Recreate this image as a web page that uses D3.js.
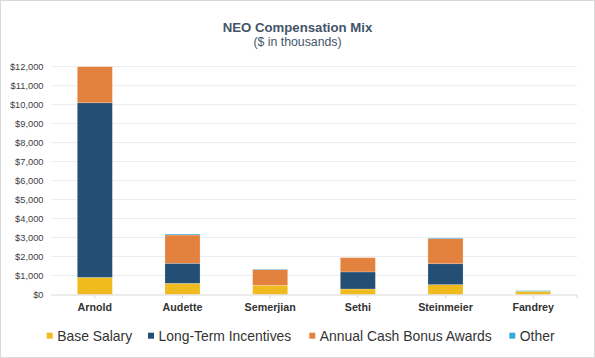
<!DOCTYPE html>
<html><head><meta charset="utf-8">
<script src="https://cdn.jsdelivr.net/npm/d3@7"></script>
<style>body{margin:0;background:#fff;}svg{display:block;}text{font-family:Arial,"Liberation Sans",sans-serif;}</style>
</head><body>
<svg id="c" width="595" height="358"></svg>
<script>
const categories = ["Arnold","Audette","Semerjian","Sethi","Steinmeier","Fandrey"];
const seriesNames = ["Base Salary","Long-Term Incentives","Annual Cash Bonus Awards","Other"];
const baseSalary = [900, 590, 485, 290, 520, 170];
const longTerm = [9200, 1055, 0, 900, 1100, 0];
const bonus = [1900, 1490, 825, 750, 1320, 0];
const other = [0, 50, 25, 0, 40, 35];
const yTicks = [0,1000,2000,3000,4000,5000,6000,7000,8000,9000,10000,11000,12000];
const colors = ["#F0BB1F","#244F75","#E3823E","#38A9DB"];

const svg = d3.select("#c");
svg.append("rect").attr("x",0.5).attr("y",0.5).attr("width",594).attr("height",357)
  .attr("fill","#fff").attr("stroke","#d9d9d9");

const mLeft = 51, mRight = 577, mTop = 66.7, mBottom = 294.5;
const x = d3.scaleBand().domain(categories).range([mLeft,mRight]).paddingInner(0.6).paddingOuter(0.3);
const y = d3.scaleLinear().domain([0,12000]).range([mBottom,mTop]);

// gridlines
svg.append("g").selectAll("line").data(yTicks.slice(1)).join("line")
  .attr("x1",mLeft).attr("x2",mRight).attr("y1",d=>y(d)).attr("y2",d=>y(d))
  .attr("stroke","#ececec").attr("stroke-width",1);

// y labels
const fmt = d3.format(",");
svg.append("g").selectAll("text").data(yTicks).join("text")
  .attr("x",43.5).attr("y",d=>y(d)).attr("dy","0.35em").attr("text-anchor","end")
  .attr("font-size",9.3).attr("fill","#404040").text(d=>"$"+fmt(d));

// stacked data
const rows = categories.map((c,i)=>({cat:c, s0:baseSalary[i], s1:longTerm[i], s2:bonus[i], s3:other[i]}));
const stack = d3.stack().keys(["s0","s1","s2","s3"])(rows);
svg.append("g").selectAll("g").data(stack).join("g").attr("fill",(d,i)=>colors[i])
  .selectAll("rect").data(d=>d.filter(p=>p[1]-p[0]>0)).join("rect")
  .attr("x",d=>x(d.data.cat)).attr("width",x.bandwidth())
  .attr("y",d=>y(d[1])).attr("height",d=>y(d[0])-y(d[1]))
  .attr("stroke","#ffffff").attr("stroke-opacity",0.35).attr("stroke-width",0.6);

// x axis line and ticks
svg.append("line").attr("x1",mLeft).attr("x2",mRight).attr("y1",mBottom+0.5).attr("y2",mBottom+0.5)
  .attr("stroke","#d9d9d9");
svg.append("g").selectAll("line").data(categories).join("line")
  .attr("x1",d=>x(d)+x.bandwidth()/2).attr("x2",d=>x(d)+x.bandwidth()/2)
  .attr("y1",mBottom+0.5).attr("y2",mBottom+4).attr("stroke","#d9d9d9");
svg.append("line").attr("x1",mRight).attr("x2",mRight).attr("y1",mBottom+0.5).attr("y2",mBottom+4).attr("stroke","#d9d9d9");

svg.append("g").selectAll("text").data(categories).join("text")
  .attr("x",d=>x(d)+x.bandwidth()/2).attr("y",311).attr("text-anchor","middle")
  .attr("font-size",10.7).attr("font-weight","bold").attr("fill","#333").text(d=>d);

// title
svg.append("text").attr("x",297.5).attr("y",32.3).attr("text-anchor","middle")
  .attr("font-size",13.2).attr("font-weight","bold").attr("fill","#44546A").text("NEO Compensation Mix");
svg.append("text").attr("x",297.5).attr("y",46).attr("text-anchor","middle")
  .attr("font-size",12.3).attr("fill","#44546A").text("($ in thousands)");

// legend
const legX = [46.7,148,309.3,509.3];
const lg = svg.append("g").selectAll("g").data(seriesNames).join("g")
  .attr("transform",(d,i)=>`translate(${legX[i]},335.7)`);
lg.append("rect").attr("x",0).attr("y",-3).attr("width",6).attr("height",6).attr("fill",(d,i)=>colors[i]);
lg.append("text").attr("x",10.5).attr("y",0).attr("dy","0.35em").attr("font-size",13.9).attr("fill","#333").text(d=>d);
</script>
</body></html>
